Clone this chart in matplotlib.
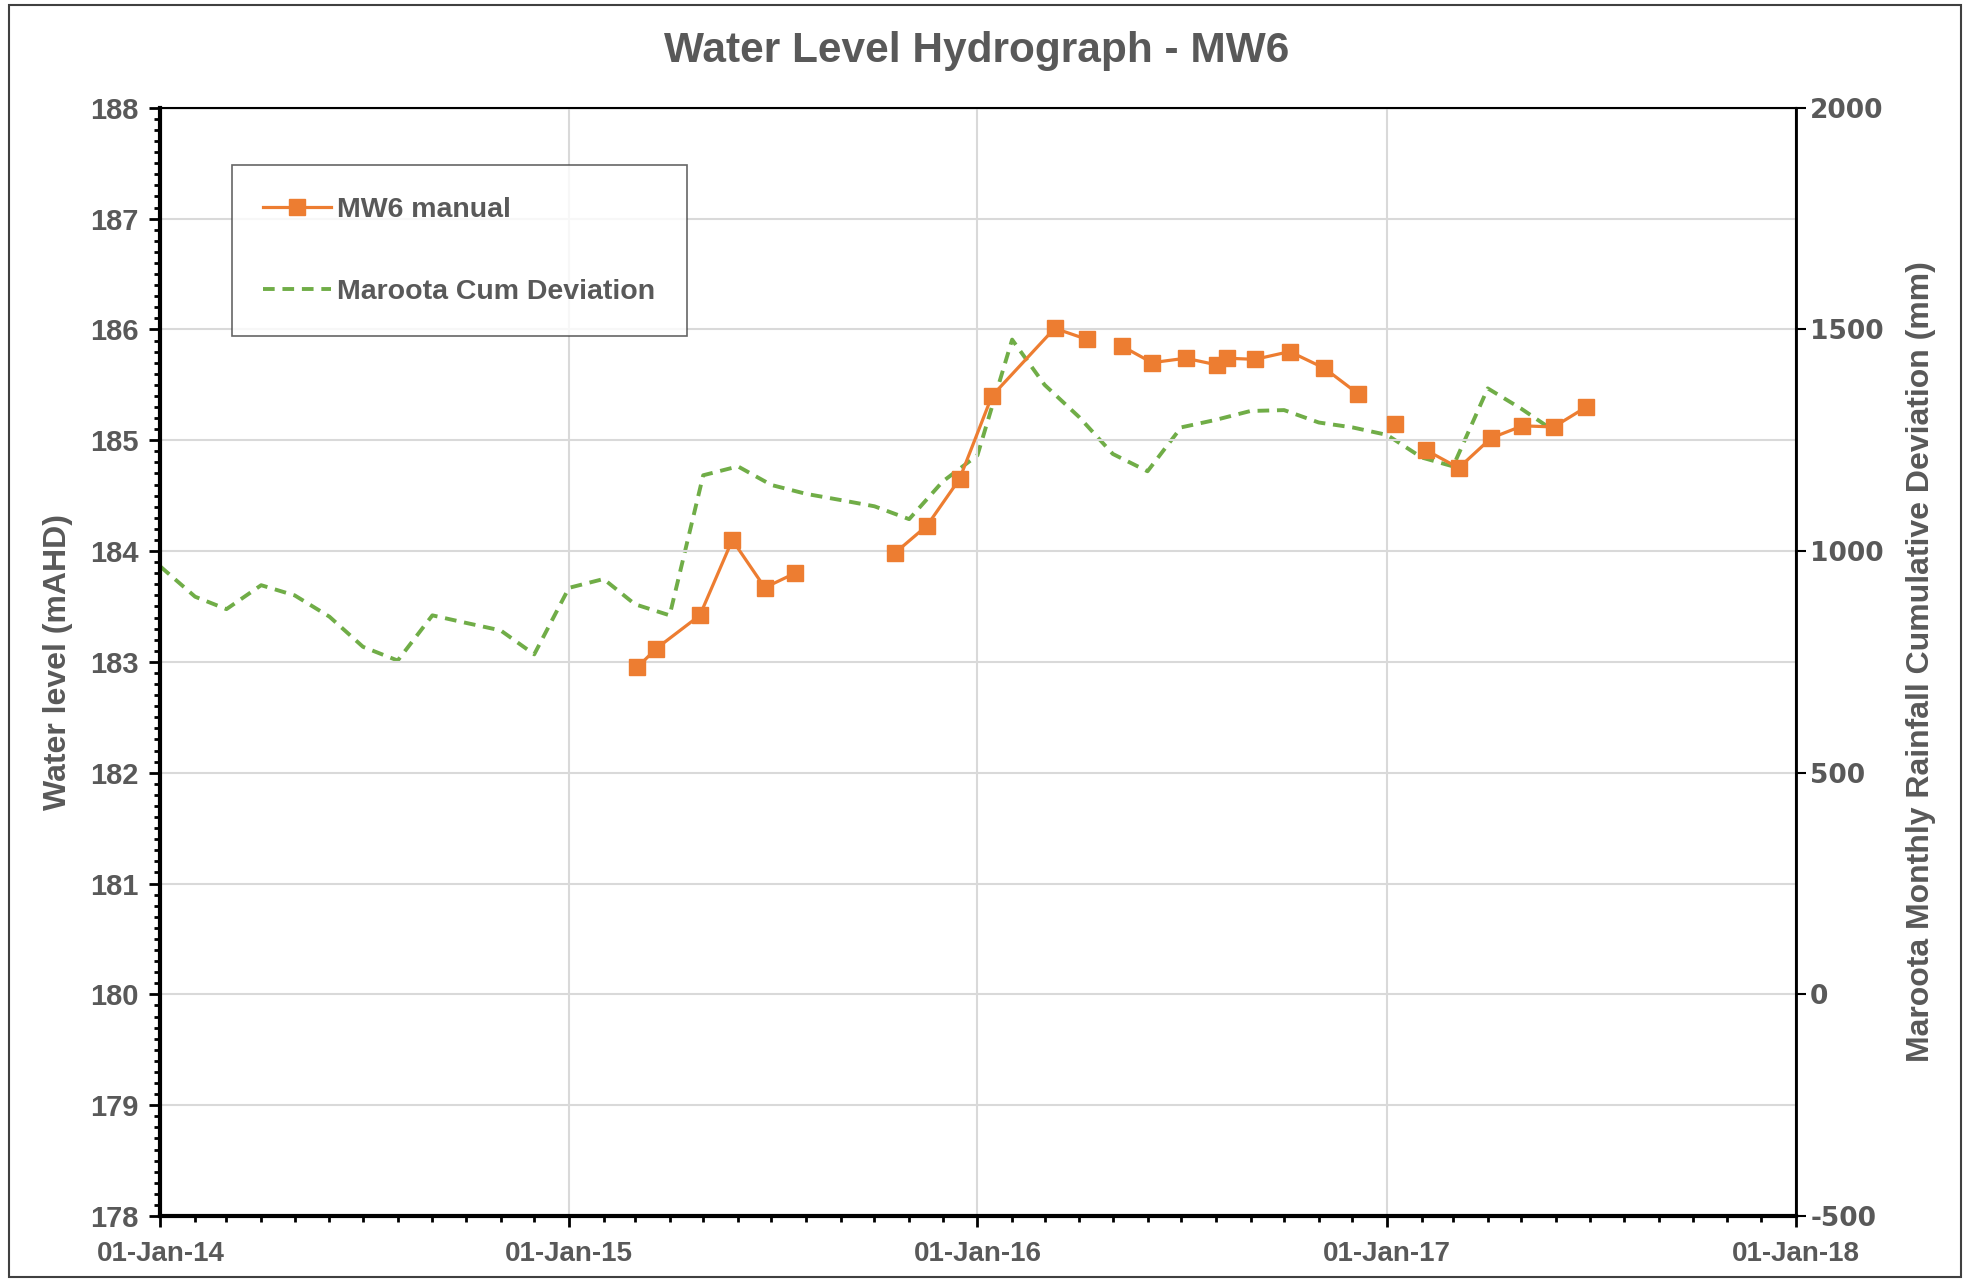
#!/usr/bin/env python3
import numpy as np
import pandas as pd
import matplotlib
matplotlib.use("Agg")
import matplotlib.pyplot as plt
import matplotlib.dates as mdates
from matplotlib.lines import Line2D
from matplotlib.patches import Rectangle

plt.rcParams['font.family'] = ['Liberation Sans', 'DejaVu Sans']
plt.rcParams['axes.unicode_minus'] = False

# manual water levels, segment = continuous run of joined points
manual_dates = ["2015-03-03", "2015-03-20", "2015-04-28", "2015-05-27", "2015-06-25", "2015-07-22",
                "2015-10-19", "2015-11-17", "2015-12-16", "2016-01-14", "2016-03-10", "2016-04-08",
                "2016-05-09", "2016-06-05", "2016-07-05", "2016-08-02", "2016-08-11", "2016-09-05",
                "2016-10-06", "2016-11-06", "2016-12-06",
                "2017-01-08",
                "2017-02-05", "2017-03-06", "2017-04-04", "2017-05-02", "2017-05-30", "2017-06-28"]
manual_level = [182.95, 183.12, 183.42, 184.10, 183.67, 183.80,
                183.98, 184.23, 184.65, 185.40, 186.01, 185.91,
                185.85, 185.70, 185.74, 185.68, 185.74, 185.73,
                185.80, 185.65, 185.42,
                185.15,
                184.91, 184.75, 185.02, 185.13, 185.12, 185.30]
manual_segment = [0, 0, 0, 0, 0, 0,
                  1, 1, 1, 1, 1, 1,
                  2, 2, 2, 2, 2, 2, 2, 2, 2,
                  3,
                  4, 4, 4, 4, 4, 4]

# Maroota monthly rainfall cumulative deviation, Jan-2014 .. Jun-2017
cumdev_start = "2014-01-01"
cumdev_mm = [965, 897, 869, 923, 900, 852, 784, 753, 855, 838, 821, 767,
             917, 937, 880, 855, 1171, 1191, 1149, 1129, 1115, 1101, 1072, 1157,
             1216, 1477, 1375, 1302, 1219, 1180, 1279, 1296, 1316, 1318, 1290, 1279,
             1262, 1211, 1191, 1367, 1321, 1268]

orange = "#ED7D31"
green = "#70AD47"
grey = "#595959"

df = pd.DataFrame({"date": pd.to_datetime(manual_dates), "level": manual_level, "seg": manual_segment})
cum_dates = pd.date_range(cumdev_start, periods=len(cumdev_mm), freq="MS")

fig = plt.figure(figsize=(19.66, 12.8), dpi=100)
ax1 = fig.add_axes([0.0816, 0.05, 0.8317, 0.8658])
ax2 = ax1.twinx()

ax2.plot(cum_dates, cumdev_mm, color=green, lw=2.8, ls=(0, (3, 2)), zorder=2)
for seg, g in df.groupby("seg"):
    ax1.plot(g["date"], g["level"], color=orange, lw=2.3, marker="s", ms=12,
             markeredgecolor=orange, zorder=3)
ax1.set_zorder(ax2.get_zorder() + 1)
ax1.patch.set_visible(False)

ax1.set_xlim(pd.Timestamp("2014-01-01"), pd.Timestamp("2018-01-01"))
ax1.set_ylim(178, 188)
ax2.set_ylim(-500, 2000)

ax1.xaxis.set_major_locator(mdates.YearLocator())
ax1.xaxis.set_minor_locator(mdates.MonthLocator())
ax1.xaxis.set_major_formatter(mdates.DateFormatter("%d-%b-%y"))
ax1.yaxis.set_major_locator(plt.MultipleLocator(1))
ax1.yaxis.set_minor_locator(plt.MultipleLocator(0.1))
ax2.yaxis.set_major_locator(plt.MultipleLocator(500))

ax1.grid(True, which="major", color="#D9D9D9", lw=1.5, zorder=0)
ax1.set_axisbelow(True)

ax1.tick_params(axis="both", which="major", direction="out", length=8, width=2,
                labelcolor=grey, color="black")
ax1.tick_params(axis="both", which="minor", direction="out", length=4, width=2, color="black")
ax1.tick_params(axis="x", which="major", pad=10, labelsize=20)
ax1.tick_params(axis="y", which="major", pad=8, labelsize=21)
ax2.tick_params(axis="y", which="major", direction="out", length=7, width=1.5,
                labelsize=19, labelcolor=grey, color="black")
for lab in ax1.get_xticklabels() + ax1.get_yticklabels():
    lab.set_fontweight("bold")
for lab in ax2.get_yticklabels():
    lab.set_fontweight("bold")
    lab.set_family("DejaVu Sans")

for sp in ["left", "bottom"]:
    ax1.spines[sp].set_linewidth(3)
for sp in ["top", "right"]:
    ax1.spines[sp].set_linewidth(1.5)
ax2.spines["right"].set_linewidth(2)
for sp in ax2.spines.values():
    sp.set_color("black")

ax1.set_ylabel("Water level (mAHD)", fontsize=23, fontweight="bold", color=grey, labelpad=12)
ax2.set_ylabel("Maroota Monthly Rainfall Cumulative Deviation (mm)", fontsize=23,
               fontweight="bold", color=grey, labelpad=16)
fig.text(0.497, 0.960, "Water Level Hydrograph - MW6", ha="center", va="center",
         fontsize=30.5, fontweight="bold", color=grey)

handles = [Line2D([], [], color=orange, lw=2.3, marker="s", ms=12),
           Line2D([], [], color=green, lw=2.8, ls=(0, (3, 2)))]
leg = ax1.legend(handles, ["MW6 manual", "Maroota Cum Deviation"], loc="upper left",
                 bbox_to_anchor=(0.0436, 0.948), fontsize=20.5, frameon=True, fancybox=False,
                 labelspacing=1.98, borderpad=1.1, handlelength=2.4, handletextpad=0.2,
                 borderaxespad=0)
leg.get_frame().set_edgecolor("#404040")
leg.get_frame().set_linewidth(1.2)
for t in leg.get_texts():
    t.set_color(grey)
    t.set_fontweight("bold")

fig.patches.append(Rectangle((0.0045, 0.002), 0.993, 0.994, transform=fig.transFigure,
                             fill=False, edgecolor="#404040", lw=1.5))

fig.savefig("out.png", dpi=100)
